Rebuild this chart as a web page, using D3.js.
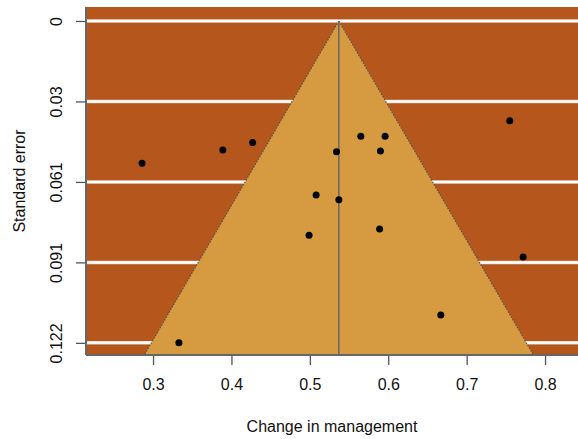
<!DOCTYPE html>
<html>
<head>
<meta charset="utf-8">
<script src="https://cdn.jsdelivr.net/npm/d3@7"></script>
<style>
  body { margin: 0; background: #fff; }
  text { font-family: "Liberation Sans", Arial, sans-serif; fill: #111; }
</style>
</head>
<body>
<div id="chart"></div>
<script>
// study estimates
var effect = [0.286, 0.389, 0.427, 0.534, 0.565, 0.596, 0.590, 0.508, 0.537, 0.499, 0.589, 0.755, 0.772, 0.667, 0.333];
var stdErr = [0.0539, 0.0489, 0.0461, 0.0496, 0.0437, 0.0437, 0.0493, 0.0660, 0.0678, 0.0812, 0.0788, 0.0378, 0.0895, 0.1114, 0.1220];

var summary = 0.537;

var xTicks = [0.3, 0.4, 0.5, 0.6, 0.7, 0.8];
var xTickLabels = ["0.3", "0.4", "0.5", "0.6", "0.7", "0.8"];
var yTicks = [0, 0.0305, 0.061, 0.0915, 0.122];
var yTickLabels = ["0", "0.03", "0.061", "0.091", "0.122"];

var width = 578,
    height = 439;

// plot box (note: "top" is reserved on window, so use a prefix)
var pLeft = 86, pRight = 578, pTop = 7, pBottom = 355;

var x = d3.scaleLinear().domain([0.2145, 0.842]).range([pLeft, pRight]);
var y = d3.scaleLinear().domain([-0.0053, 0.1266]).range([pTop, pBottom]);
var seMax = y.domain()[1];

var svg = d3.select("#chart")
    .append("svg")
    .attr("width", width)
    .attr("height", height);

// background
svg.append("rect")
    .attr("x", pLeft)
    .attr("y", pTop)
    .attr("width", pRight - pLeft)
    .attr("height", pBottom - pTop)
    .attr("fill", "#b5561c");

// grid lines under the funnel
var grid = svg.append("g");
grid.selectAll("line.outer")
    .data(yTicks)
    .enter().append("line")
    .attr("class", "outer")
    .attr("x1", pLeft).attr("x2", pRight)
    .attr("y1", function (d) { return y(d); })
    .attr("y2", function (d) { return y(d); })
    .attr("stroke", "#e8d8cc")
    .attr("stroke-width", 3.5);
grid.selectAll("line.inner")
    .data(yTicks)
    .enter().append("line")
    .attr("class", "inner")
    .attr("x1", pLeft).attr("x2", pRight)
    .attr("y1", function (d) { return y(d); })
    .attr("y2", function (d) { return y(d); })
    .attr("stroke", "#ffffff")
    .attr("stroke-width", 2);

// 95% pseudo confidence region
var funnel = [
    [summary, 0],
    [summary - 1.96 * seMax, seMax],
    [summary + 1.96 * seMax, seMax]
];
svg.append("path")
    .attr("d", d3.line()
        .x(function (d) { return x(d[0]); })
        .y(function (d) { return y(d[1]); })(funnel) + "Z")
    .attr("fill", "#d69a40")
    .attr("stroke", "none");

// dotted edges
[[funnel[0], funnel[1]], [funnel[0], funnel[2]]].forEach(function (seg) {
    svg.append("line")
        .attr("x1", x(seg[0][0])).attr("y1", y(seg[0][1]))
        .attr("x2", x(seg[1][0])).attr("y2", y(seg[1][1]))
        .attr("stroke", "#555")
        .attr("stroke-width", 1.2)
        .attr("stroke-dasharray", "1.5,1.5");
});

// summary line
svg.append("line")
    .attr("x1", x(summary)).attr("x2", x(summary))
    .attr("y1", y(0)).attr("y2", pBottom)
    .attr("stroke", "#666")
    .attr("stroke-width", 1.5);

// points
svg.selectAll("circle")
    .data(effect)
    .enter().append("circle")
    .attr("cx", function (d) { return x(d); })
    .attr("cy", function (d, i) { return y(stdErr[i]); })
    .attr("r", 3.5)
    .attr("fill", "#000");

// axes frame (left and bottom)
svg.append("line")
    .attr("x1", pLeft).attr("x2", pLeft)
    .attr("y1", pTop).attr("y2", pBottom)
    .attr("stroke", "#666").attr("stroke-width", 2);
svg.append("line")
    .attr("x1", pLeft).attr("x2", pRight)
    .attr("y1", pBottom).attr("y2", pBottom)
    .attr("stroke", "#666").attr("stroke-width", 2);

// x axis
var xAxis = svg.append("g")
    .attr("transform", "translate(0," + (pBottom + 1) + ")")
    .call(d3.axisBottom(x)
        .tickValues(xTicks)
        .tickSize(9)
        .tickPadding(14)
        .tickFormat(function (d, i) { return xTickLabels[i]; }));
xAxis.select(".domain").remove();
xAxis.selectAll("line").attr("stroke", "#555").attr("stroke-width", 1.3);
xAxis.selectAll("text").style("font-size", "16px").attr("fill", "#111");

// y axis
var yAxis = svg.append("g")
    .attr("transform", "translate(" + (pLeft - 1) + ",0)")
    .call(d3.axisLeft(y)
        .tickValues(yTicks)
        .tickSize(9)
        .tickFormat(function (d, i) { return yTickLabels[i]; }));
yAxis.select(".domain").remove();
yAxis.selectAll("line").attr("stroke", "#555").attr("stroke-width", 1.3);
yAxis.selectAll("text")
    .style("font-size", "16px")
    .attr("fill", "#111")
    .attr("x", null).attr("dy", null)
    .attr("text-anchor", "middle")
    .attr("transform", "translate(-23,0) rotate(-90)");

// axis titles
svg.append("text")
    .attr("x", (pLeft + pRight) / 2)
    .attr("y", 432)
    .attr("text-anchor", "middle")
    .style("font-size", "16px")
    .text("Change in management");

svg.append("text")
    .attr("transform", "translate(25," + ((pTop + pBottom) / 2) + ") rotate(-90)")
    .attr("text-anchor", "middle")
    .style("font-size", "16px")
    .text("Standard error");
</script>
</body>
</html>
